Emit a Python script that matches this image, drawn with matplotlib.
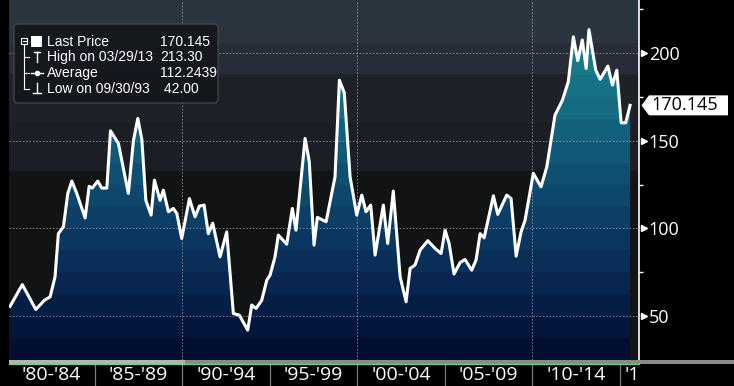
import numpy as np
import matplotlib
matplotlib.use('Agg')
import matplotlib.pyplot as plt
import matplotlib.transforms as mtransforms
from matplotlib.colors import LinearSegmentedColormap
from matplotlib.lines import Line2D
from matplotlib.patches import FancyBboxPatch, Rectangle, Polygon

plt.rcParams['font.family'] = ['Open Sans', 'DejaVu Sans']

# ── DATA (roughly quarterly) ──
years = [1980.17, 1980.87, 1981.64, 1982.13, 1982.46, 1982.74, 1982.93,
         1983.22, 1983.47, 1983.70, 1983.98, 1984.46, 1984.69, 1984.87,
         1985.18, 1985.41, 1985.70, 1985.91, 1986.36, 1986.93, 1987.22,
         1987.47, 1987.70, 1987.93, 1988.23, 1988.42, 1988.74, 1988.93,
         1989.22, 1989.50, 1989.70, 1989.98, 1990.42, 1990.74, 1990.99,
         1991.26, 1991.50, 1991.75, 1992.17, 1992.55, 1992.93, 1993.27,
         1993.75, 1993.98, 1994.23, 1994.55, 1994.84, 1995.03, 1995.31,
         1995.50, 1995.98, 1996.30, 1996.51, 1997.03, 1997.27, 1997.54,
         1997.73, 1998.23, 1998.74, 1998.99, 1999.27, 1999.60, 1999.98,
         2000.27, 2000.51, 2000.78, 2001.03, 2001.50, 2001.75, 2002.07,
         2002.46, 2002.80, 2003.03, 2003.31, 2003.60, 2004.04, 2004.46,
         2004.80, 2005.03, 2005.26, 2005.54, 2005.89, 2006.17, 2006.55,
         2006.80, 2007.03, 2007.26, 2007.79, 2008.04, 2008.55, 2008.80,
         2009.09, 2009.37, 2009.60, 2010.07, 2010.51, 2010.84, 2011.31,
         2011.73, 2012.07, 2012.36, 2012.61, 2012.87, 2013.09, 2013.25,
         2013.64, 2013.89, 2014.33, 2014.59, 2014.84, 2015.09, 2015.35,
         2015.60]
prices = [55.6, 68.0, 53.8, 59.0, 61.0, 72.4, 97.0,
          101.0, 120.0, 127.0, 120.0, 106.0, 124.0, 123.0,
          127.0, 123.0, 123.0, 155.6, 148.5, 120.0, 150.0,
          162.7, 150.7, 116.0, 107.6, 127.5, 116.0, 121.8,
          109.5, 111.4, 108.5, 94.3, 117.0, 106.6, 112.7,
          113.3, 97.0, 103.0, 83.8, 98.0, 51.5, 50.6,
          42.0, 56.3, 54.4, 59.0, 70.5, 73.4, 83.8,
          96.2, 91.0, 111.4, 99.0, 151.3, 138.0, 90.5,
          106.3, 103.8, 129.4, 184.5, 177.3, 129.4, 107.6,
          119.0, 109.5, 113.3, 84.8, 113.3, 91.4, 121.3,
          72.4, 58.2, 77.2, 79.1, 87.6, 93.0, 88.6,
          85.7, 99.0, 91.4, 74.0, 80.6, 82.3, 76.2,
          82.0, 97.0, 94.6, 118.6, 108.0, 119.0, 117.0,
          84.2, 98.0, 104.7, 131.4, 123.7, 135.0, 164.6,
          173.0, 183.6, 209.2, 195.6, 207.4, 191.2, 213.3,
          190.2, 185.0, 192.5, 181.7, 190.2, 160.2, 160.2,
          170.145]

ytick_vals = [50, 100, 150, 200]
minor_vals = [75, 125, 175, 225]
vgrid_years = [1990, 2000, 2010]
period_starts = [1980, 1985, 1990, 1995, 2000, 2005, 2010, 2015]
period_labels = ["'80-'84", "'85-'89", "'90-'94", "'95-'99",
                 "'00-'04", "'05-'09", "'10-'14", "'15-'19"]
legend_names = ["Last Price", "High on 03/29/13", "Average",
                "Low on 09/30/93"]
legend_values = ["170.145", "213.30", "112.2439", " 42.00"]
last_price = 170.145

XMIN, XMAX = 1980.11, 2016.11
YMIN, YMAX = 25.0, 230.2
W, H = 734, 386

fig = plt.figure(figsize=(W / 100, H / 100), dpi=100, facecolor='black')
ax = fig.add_axes([9 / W, 26 / H, 630 / W, 360 / H])
ax.set_xlim(XMIN, XMAX)
ax.set_ylim(YMIN, YMAX)
ax.set_facecolor('black')

# ── BACKGROUND BANDS ──
vs = np.linspace(YMIN, YMAX, 360)
bg = np.zeros((len(vs), 1, 3))
for i, v in enumerate(vs):
    if v > 206:
        c = (0.17, 0.21, 0.25)
    elif v > 188:
        c = (0.15, 0.18, 0.22)
    elif v > 160:
        c = (0.12, 0.13, 0.16)
    elif v > 133:
        c = (0.11, 0.12, 0.15)
    else:
        c = (0.07, 0.075, 0.08)
    bg[i, 0] = c
ax.imshow(bg, extent=(XMIN, XMAX, YMIN, YMAX), origin='lower',
          aspect='auto', interpolation='nearest', zorder=0)

# ── GRADIENT FILL UNDER THE CURVE ──
fill_cmap = LinearSegmentedColormap.from_list('fill', [
    (0.00, '#030c2c'), (0.12, '#061a42'), (0.24, '#092a55'),
    (0.37, '#0c3b64'), (0.49, '#0f4c70'), (0.61, '#125e7b'),
    (0.73, '#166f84'), (0.85, '#1a7c8b'), (1.00, '#1f8893')])
band = 12.5
q = YMIN + (np.floor((vs - YMIN) / band) + 0.5) * band
fill_img = fill_cmap(np.clip((q - YMIN) / (YMAX - YMIN), 0, 1))[:, None, :3]
poly = ax.fill_between(years, prices, YMIN, facecolor='none',
                       edgecolor='none')
img = ax.imshow(fill_img, extent=(XMIN, XMAX, YMIN, YMAX), origin='lower',
                aspect='auto', interpolation='nearest', zorder=1)
img.set_clip_path(poly.get_paths()[0], ax.transData)

# ── GRID ──
for v in ytick_vals:
    ax.axhline(v, color='#b0b4ba', lw=0.6, ls=(0, (2, 2)), alpha=0.75,
               zorder=3)
for yr in vgrid_years:
    ax.axvline(yr, color='#b0b4ba', lw=0.6, ls=(0, (2, 2)), alpha=0.75,
               zorder=3)

# ── PRICE LINE ──
ax.plot(years, prices, color='white', lw=2.2, zorder=5)

# ── AXES STYLE ──
for s in ['left', 'top', 'bottom']:
    ax.spines[s].set_visible(False)
ax.spines['right'].set_color('white')
ax.spines['right'].set_linewidth(1.2)
ax.set_xticks([])
ax.yaxis.tick_right()
ax.set_yticks(ytick_vals)
ax.set_yticks(minor_vals, minor=True)
ax.tick_params(axis='y', which='major', length=0, pad=7,
               labelcolor='white', labelsize=13)
ax.tick_params(axis='y', which='minor', length=3, width=1,
               color='white', direction='out')

tick_tr = ax.get_yaxis_transform() + mtransforms.ScaledTranslation(
    0.05, 0, fig.dpi_scale_trans)
ax.plot([1.0] * len(ytick_vals), ytick_vals, ls='none', marker='>',
        ms=5, color='white', transform=tick_tr, clip_on=False, zorder=6)

# last price tag
tag_tr = mtransforms.Affine2D() + mtransforms.ScaledTranslation(
    1.0, last_price, ax.get_yaxis_transform())
tag = Polygon([(2.5, 0), (10, 10), (89, 10), (89, -10), (10, -10)],
              closed=True, facecolor='white', edgecolor='none',
              transform=tag_tr, clip_on=False, zorder=7)
ax.add_artist(tag)
ax.annotate(f'{last_price:.3f}', xy=(1.0, last_price),
            xycoords=ax.get_yaxis_transform(), xytext=(12, 0),
            textcoords='offset pixels', ha='left', va='center',
            color='black', fontsize=13, zorder=8, annotation_clip=False)

# ── LEGEND BOX (pixel coords, y from top) ──
ident = mtransforms.IdentityTransform()


def pline(xs, ys, **kw):
    fig.add_artist(Line2D(xs, [H - y for y in ys], transform=ident,
                          color='white', **kw))


box = FancyBboxPatch((14, H - 103), 204, 79,
                     boxstyle='round,pad=0,rounding_size=4',
                     transform=ident, facecolor='#14171c',
                     edgecolor='#41474e', lw=1, alpha=0.93, zorder=10)
fig.add_artist(box)
row_y = [41.5, 57, 73, 89]
for name, val, y in zip(legend_names, legend_values, row_y):
    fig.text(47, H - y, name, transform=ident, color='white',
             fontsize=10, va='center', ha='left', zorder=11,
             family='Liberation Sans')
    fig.text(160, H - y, val, transform=ident, color='white',
             fontsize=10, va='center', ha='left', zorder=11,
             family='Liberation Sans')

# tree icons
fig.add_artist(Rectangle((21, H - 44), 6, 6, transform=ident, fill=False,
                         edgecolor='white', lw=0.8, zorder=11))
pline([22.5, 25.5], [41, 41], lw=0.8, zorder=11)
fig.add_artist(Rectangle((31, H - 47), 11, 11, transform=ident,
                         facecolor='white', edgecolor='none', zorder=11))
pline([24, 24], [44, 89], lw=0.8, zorder=11)
for y in row_y[1:]:
    pline([24, 29], [y, y], lw=0.8, zorder=11)
pline([34, 40], [52, 52], lw=1, zorder=11)
pline([37, 37], [52, 62], lw=1, zorder=11)
pline([31, 43], [73, 73], lw=1, zorder=11)
fig.add_artist(Line2D([37], [H - 73], transform=ident, marker='o', ms=3,
                      color='white', zorder=11))
pline([37, 37], [83, 93], lw=1, zorder=11)
pline([33, 41], [93, 93], lw=1, zorder=11)

# ── SCROLL BAR UNDER THE PLOT ──
fig.add_artist(Rectangle((9, H - 364), W - 9, 4, transform=ident,
                         facecolor='#8a8a8a', edgecolor='none'))
fig.add_artist(Rectangle((9, H - 364), 176, 4, transform=ident,
                         facecolor='#b4b4b4', edgecolor='none'))
fig.add_artist(Line2D([9, 639], [H - 363.5, H - 363.5], transform=ident,
                      color='#7cc97c', lw=1))

# ── PERIOD LABEL STRIP ──
ax2 = fig.add_axes([9 / W, 0, 630 / W, 22 / H])
ax2.set_xlim(XMIN, XMAX)
ax2.set_ylim(0, 1)
ax2.set_facecolor('black')
ax2.axis('off')
for start, lab in zip(period_starts[:-1], period_labels[:-1]):
    ax2.text(start + 2.5, 0.48, lab, ha='center', va='center',
             color='white', fontsize=14, clip_on=True)
# the last period only shows its first characters before the axis ends
ax2.text(period_starts[-1] + 0.3, 0.48, period_labels[-1], ha='left',
         va='center', color='white', fontsize=14, clip_on=True)
for start in period_starts[1:]:
    ax2.axvline(start, color='#7a7a7a', lw=0.9)

fig.savefig('out.png', dpi=100, facecolor='black')
